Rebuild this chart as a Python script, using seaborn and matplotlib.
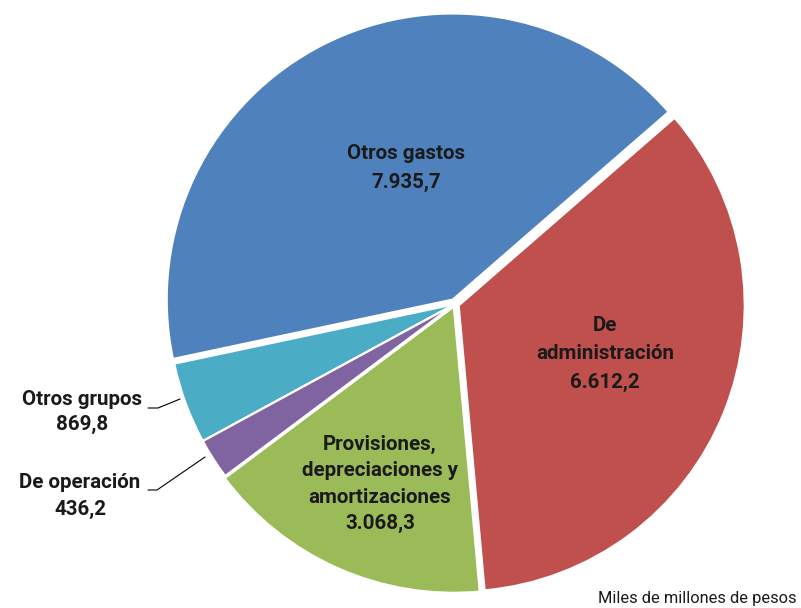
import matplotlib
matplotlib.use("Agg")
import matplotlib.pyplot as plt
import seaborn as sns

# Gastos por grupo (miles de millones de pesos)
categories = ["Otros gastos", "Otros grupos", "De operación",
              "Provisiones, depreciaciones y amortizaciones", "De administración"]
values = [7935.7, 869.8, 436.2, 3068.3, 6612.2]
colors = ["#4F81BD", "#4BACC6", "#8064A2", "#9BBB59", "#C0504D"]
explode_px = [5, 1, 1, 3, 4]

sns.set_theme(style="white")
plt.rcParams['font.family'] = ['Roboto', 'DejaVu Sans']

W, H = 801, 608
fig = plt.figure(figsize=(W / 100, H / 100), dpi=100)
ax = fig.add_axes([0, 0, 1, 1])

cx, cy, r = 455, H - 304, 286
wedges, _ = ax.pie(values, colors=colors, explode=explode_px, startangle=41,
                   counterclock=True, center=(cx, cy), radius=r,
                   wedgeprops=dict(edgecolor='white', linewidth=1.5))
ax.set_xlim(0, W)
ax.set_ylim(0, H)
ax.set_aspect('equal')
ax.axis('off')


def fmt(v):
    s = f"{v:,.1f}"
    return s.replace(",", "X").replace(".", ",").replace("X", ".")


def label(x, y, text, ls=1.6):
    ax.text(x, H - y, text, ha="center", va="center", fontsize=14.8,
            fontweight="bold", color="#1a1a1a", linespacing=ls)


label(406, 168, "Otros gastos\n" + fmt(values[0]))
label(605, 354, "De\nadministración\n" + fmt(values[4]))
label(380, 484, "Provisiones,\ndepreciaciones y\namortizaciones\n" + fmt(values[3]), ls=1.5)
label(82, 412, "Otros grupos\n" + fmt(values[1]), ls=1.45)
label(80, 496, "De operación\n" + fmt(values[2]), ls=1.55)

# leader lines
ax.plot([148, 158, 180], [H - 408, H - 408, H - 399], color="black", lw=0.8)
ax.plot([148, 157, 205], [H - 490, H - 490, H - 457], color="black", lw=0.8)

ax.text(796, H - 599, "Miles de millones de pesos", ha="right", va="center",
        fontsize=11.8, color="#1a1a1a")

fig.savefig("out.png", dpi=100)
plt.close(fig)
